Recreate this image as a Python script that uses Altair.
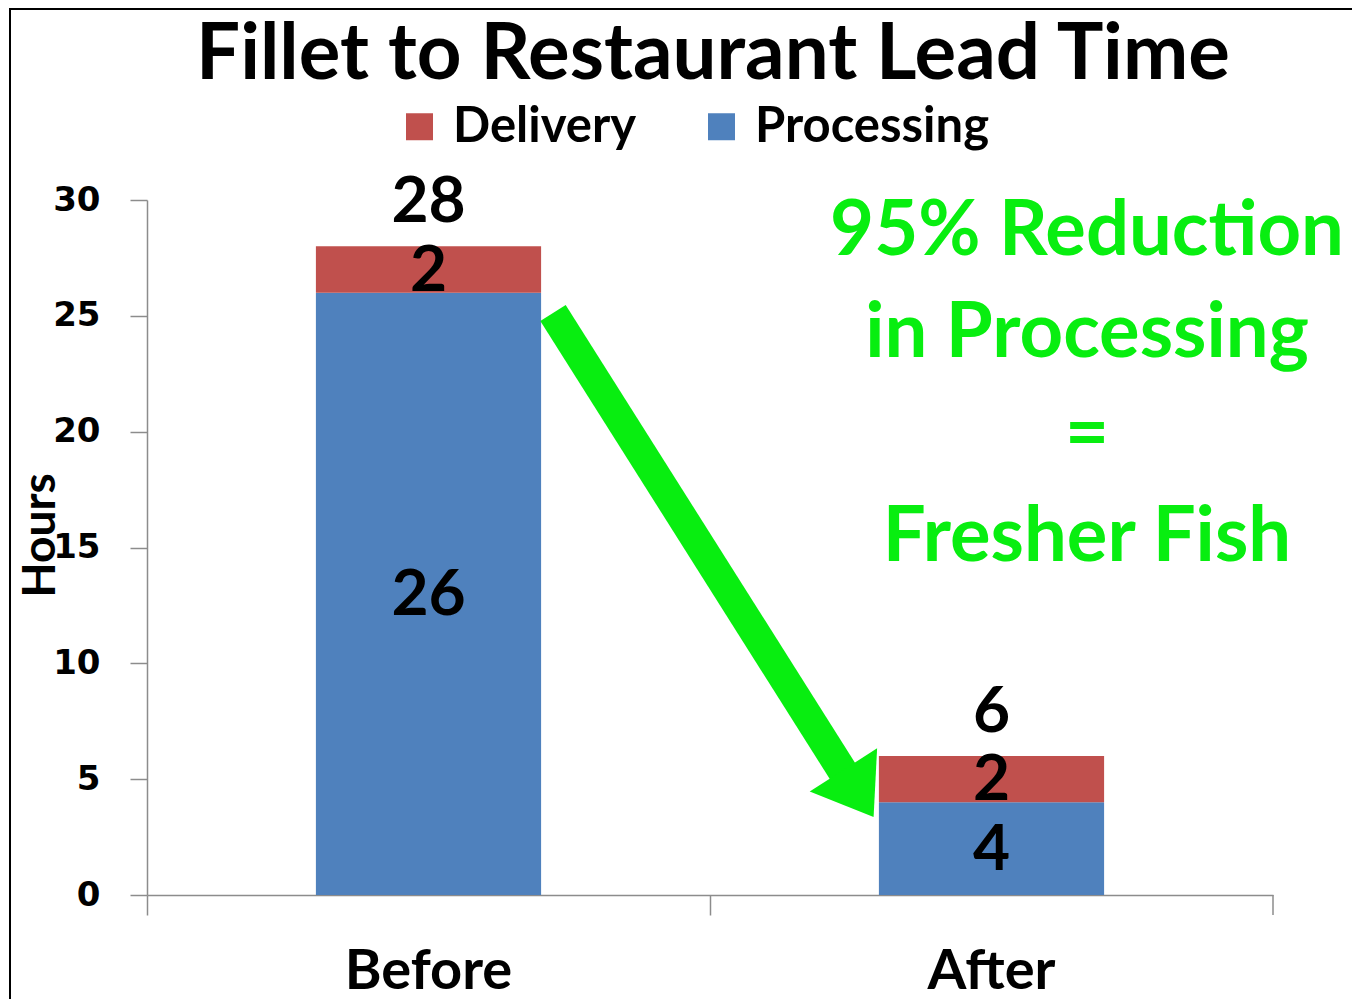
import altair as alt
import pandas as pd

stages = ["Before", "After"]
processing = [26, 4]
delivery = [2, 2]
series = ["Delivery", "Processing"]
colors = ["#C0504D", "#4F81BD"]
y_ticks = [0, 5, 10, 15, 20, 25, 30]
title_text = "Fillet to Restaurant Lead Time"
note_lines = ["95% Reduction", "in Processing", "=", "Fresher Fish"]

rows = []
for i, s in enumerate(stages):
    rows.append({"stage": s, "series": "Processing", "hours": processing[i], "order": 0})
    rows.append({"stage": s, "series": "Delivery", "hours": delivery[i], "order": 1})
df = pd.DataFrame(rows)

W, H = 1126, 695
FONT = "Lato"
GREEN = "#08EE10"
AXIS_GREY = "#8c8c8c"

x_enc = alt.X(
    "stage:N",
    sort=stages,
    title=None,
    scale=alt.Scale(paddingInner=0, paddingOuter=0),
    axis=alt.Axis(
        bandPosition=0,
        labelAngle=0,
        labelFont=FONT,
        labelFontSize=56,
        labelFontWeight="bold",
        labelColor="black",
        labelPadding=29,
        tickSize=20,
        tickColor=AXIS_GREY,
        tickWidth=1.5,
        domainColor=AXIS_GREY,
        domainWidth=1.5,
        grid=False,
    ),
)

y_axis = alt.Axis(
    values=y_ticks,
    grid=False,
    labelFont="DejaVu Sans",
    labelFontSize=34,
    labelFontWeight="bold",
    labelColor="black",
    labelPadding=30,
    tickSize=17,
    tickColor=AXIS_GREY,
    tickWidth=1.5,
    domainColor=AXIS_GREY,
    domainWidth=1.5,
    title="Hours",
    titleFont=FONT,
    titleFontSize=46,
    titleFontWeight="bold",
    titleColor="black",
    titleAngle=270,
    titleAlign="center",
    titleBaseline="middle",
    titleX=-107,
    titleY=335,
)
y_scale = alt.Scale(domain=[0, 30], nice=False)

bars = alt.Chart(df).mark_bar(width={"band": 0.4}).encode(
    x=x_enc,
    y=alt.Y("hours:Q", stack="zero", scale=y_scale, axis=y_axis, title="Hours"),
    color=alt.Color(
        "series:N",
        scale=alt.Scale(domain=series, range=colors),
        legend=alt.Legend(
            title=None,
            orient="none",
            legendX=248,
            legendY=-98,
            direction="horizontal",
            symbolType="square",
            symbolSize=729,
            symbolStrokeWidth=0,
            labelFont=FONT,
            labelFontSize=49,
            labelFontWeight="bold",
            labelColor="black",
            labelOffset=9,
            labelLimit=500,
            columnPadding=60,
            padding=0,
        ),
    ),
    order=alt.Order("order:Q", sort="ascending"),
)

seg_labels = (
    alt.Chart(df)
    .transform_stack(
        stack="hours",
        groupby=["stage"],
        as_=["y0", "y1"],
        sort=[alt.SortField("order", order="ascending")],
    )
    .transform_calculate(mid="(datum.y0 + datum.y1) / 2")
    .mark_text(font=FONT, fontSize=64, fontWeight="bold", color="black", baseline="middle", dy=2)
    .encode(
        x=alt.X("stage:N", sort=stages, title=None),
        y=alt.Y("mid:Q", title="Hours"),
        text="hours:Q",
    )
)

totals = (
    alt.Chart(df)
    .transform_aggregate(total="sum(hours)", groupby=["stage"])
    .mark_text(font=FONT, fontSize=64, fontWeight="bold", color="black", baseline="alphabetic", dy=-24)
    .encode(
        x=alt.X("stage:N", sort=stages, title=None),
        y=alt.Y("total:Q", title="Hours"),
        text="total:Q",
    )
)

one = pd.DataFrame({"k": [0]})

arrow_shaft = alt.Chart(one).mark_rule(color=GREEN, strokeWidth=30, strokeCap="butt").encode(
    x=alt.value(406), y=alt.value(113), x2=alt.value(698), y2=alt.value(575)
)
arrow_head = alt.Chart(one).mark_point(
    shape="M -1 -0.7 L 1 -0.7 L 0 0.7 Z",
    filled=True,
    size=6400,
    angle=327.4,
    color=GREEN,
    opacity=1,
    strokeWidth=0,
).encode(x=alt.value(711.5), y=alt.value(593.5))

note = alt.Chart(one).mark_text(
    font=FONT,
    fontSize=76,
    fontWeight="bold",
    color=GREEN,
    align="center",
    baseline="alphabetic",
    lineBreak="\n",
    lineHeight=102,
).encode(x=alt.value(940), y=alt.value(55), text=alt.value("\n".join(note_lines)))

title = alt.Chart(one).mark_text(
    font=FONT, fontSize=78, fontWeight="bold", color="black", align="center", baseline="alphabetic"
).encode(x=alt.value(566), y=alt.value(-121), text=alt.value(title_text))

end_tick = alt.Chart(one).mark_rule(color=AXIS_GREY, strokeWidth=1.5).encode(
    x=alt.value(W), y=alt.value(H), y2=alt.value(H + 20)
)

border = alt.Chart(one).mark_rect(filled=False, stroke="black", strokeWidth=2).encode(
    x=alt.value(-137), x2=alt.value(W + 300), y=alt.value(-191), y2=alt.value(H + 300)
)

chart = (
    alt.layer(bars, seg_labels, totals, arrow_shaft, arrow_head, note, title, end_tick, border)
    .properties(
        width=W,
        height=H,
        autosize=alt.AutoSizeParams(type="none"),
        padding={"left": 139, "top": 192, "right": 79, "bottom": 120},
    )
    .configure_view(stroke=None)
)

chart.save("out.html", embed_options={"renderer": "svg", "actions": False})
